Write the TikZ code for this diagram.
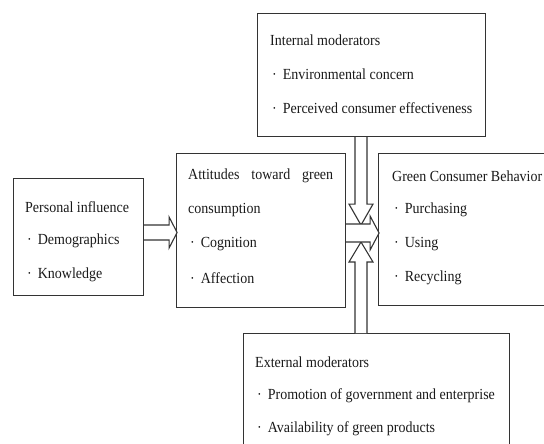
\documentclass[tikz,border=0pt]{standalone}
\usepackage{fontspec}
\setmainfont{Liberation Serif}
\usetikzlibrary{calc}
\newcommand{\bl}[1]{\hspace*{2pt}·\hspace{6pt}#1}
\newcommand{\tl}[1]{\scalebox{1}[1.1]{#1}}
\begin{document}
\begin{tikzpicture}[x=1pt,y=-1pt,
  box/.style={draw=black!80,line width=1.1pt,anchor=north west,inner sep=0pt},
  txt/.style={anchor=west,inner sep=0pt,font=\fontsize{14}{16}\selectfont,text=black!90},
  blk/.style={draw=black!80,line width=1.1pt,fill=white,line join=miter}]
\useasboundingbox (0,0) rectangle (544,444);
% boxes
\node[box,minimum width=130pt,minimum height=117pt] (pi) at (13,178) {};
\node[box,minimum width=169pt,minimum height=154pt] (at) at (176,153) {};
\node[box,minimum width=228pt,minimum height=123pt] (im) at (257,13) {};
\node[box,minimum width=190pt,minimum height=152pt] (gc) at (378,153) {};
\node[box,minimum width=266pt,minimum height=140pt] (em) at (243,333) {};
% texts
\node[txt] (pi1) at (25,207) {\tl{Personal influence}};
\node[txt] (pi2) at (25,241) {\tl{\bl{Demographics}}};
\node[txt] (pi3) at (25,275) {\tl{\bl{Knowledge}}};
\node[txt] (at1) at (188,176) {\tl{\makebox[145pt][s]{Attitudes toward green}}};
\node[txt] (at2) at (188,210) {\tl{consumption}};
\node[txt] (at3) at (188,244) {\tl{\bl{Cognition}}};
\node[txt] (at4) at (188,278) {\tl{\bl{Affection}}};
\node[txt] (im1) at (270,40) {\tl{Internal moderators}};
\node[txt] (im2) at (270,74) {\tl{\bl{Environmental concern}}};
\node[txt] (im3) at (270,108) {\tl{\bl{Perceived consumer effectiveness}}};
\node[txt] (gc1) at (392,176) {\tl{Green Consumer Behavior}};
\node[txt] (gc2) at (392,210) {\tl{\bl{Purchasing}}};
\node[txt] (gc3) at (392,244) {\tl{\bl{Using}}};
\node[txt] (gc4) at (392,278) {\tl{\bl{Recycling}}};
\node[txt] (em1) at (255,362) {\tl{External moderators}};
\node[txt] (em2) at (255,396) {\tl{\bl{Promotion of government and enterprise}}};
\node[txt] (em3) at (255,429) {\tl{\bl{Availability of green products}}};
% block arrows
\draw[blk] ($(pi.north east)+(0,47)$) -- ++(25,0) -- ++(0,-8) -- ++(8,15.5) -- ++(-8,15.5) -- ++(0,-8) -- ++(-25,0);
\draw[blk] ($(im.south west)+(98,0)$) -- ++(0,67) -- ++(-6,0) -- ++(12,21) -- ++(12,-21) -- ++(-6,0) -- ++(0,-67);
\draw[blk] ($(em.north west)+(112,0)$) -- ++(0,-71) -- ++(-6,0) -- ++(12,-20) -- ++(12,20) -- ++(-6,0) -- ++(0,71);
\draw[blk] ($(at.north east)+(0,71)$) -- ++(24,0) -- ++(0,-8) -- ++(9,17) -- ++(-9,17) -- ++(0,-8) -- ++(-24,0);
\end{tikzpicture}
\end{document}
